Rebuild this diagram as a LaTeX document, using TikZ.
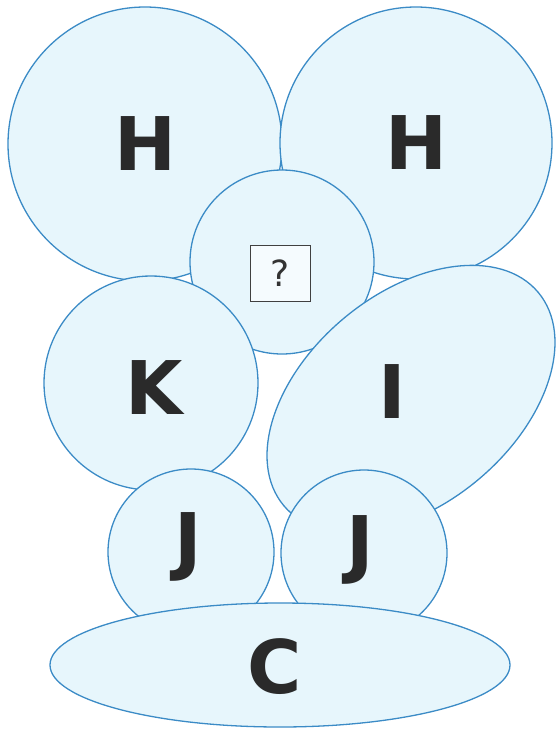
\documentclass[tikz,border=0pt]{standalone}
\usepackage{fontspec}
\setmainfont{DejaVu Sans}
\usetikzlibrary{shapes.geometric}
\definecolor{bubfill}{HTML}{E7F6FC}
\definecolor{bubline}{HTML}{3B8BC6}
\definecolor{letter}{HTML}{2A2A2A}
\tikzset{
  bub/.style={circle, draw=bubline, fill=bubfill, line width=1.3pt, inner sep=0pt},
  oval/.style={ellipse, draw=bubline, fill=bubfill, line width=1.3pt, inner sep=0pt},
  lab/.style={text=letter, font=\fontsize{74}{74}\selectfont\bfseries, inner sep=0pt},
  qbox/.style={draw=black!75, fill=white!60!bubfill, line width=1pt, minimum width=60pt, minimum height=56pt, inner sep=0pt, font=\fontsize{36}{36}\selectfont, text=black!80}
}
\begin{document}
\begin{tikzpicture}[x=1pt,y=-1pt]
\useasboundingbox (0,0) rectangle (555,729);
\node[bub, minimum size=274pt] (h1) at (145,144) {};
\node[bub, minimum size=272pt] (h2) at (416,143) {};
\node[bub, minimum size=184pt] (mid) at (282,262) {};
\node[bub, minimum size=214pt] (k) at (151,383) {};
\node[oval, minimum width=332pt, minimum height=210pt, rotate=40] (i) at (411,399) {};
\node[bub, minimum size=166pt] (j1) at (191,552) {};
\node[bub, minimum size=166pt] (j2) at (364,553) {};
\node[oval, minimum width=460pt, minimum height=124pt] (c) at (280,665) {};
\node[lab] (th1) at (h1) {H};
\node[lab] (th2) at (h2) {H};
\node[lab] (tk) at (154,388) {K};
\node[lab] (ti) at (392,392) {I};
\node[lab] (tj1) at (188,547) {J};
\node[lab] (tj2) at (360,550) {J};
\node[lab] (tc) at (275,667) {C};
\node[qbox] (q) at (280,273) {?};
\end{tikzpicture}
\end{document}
